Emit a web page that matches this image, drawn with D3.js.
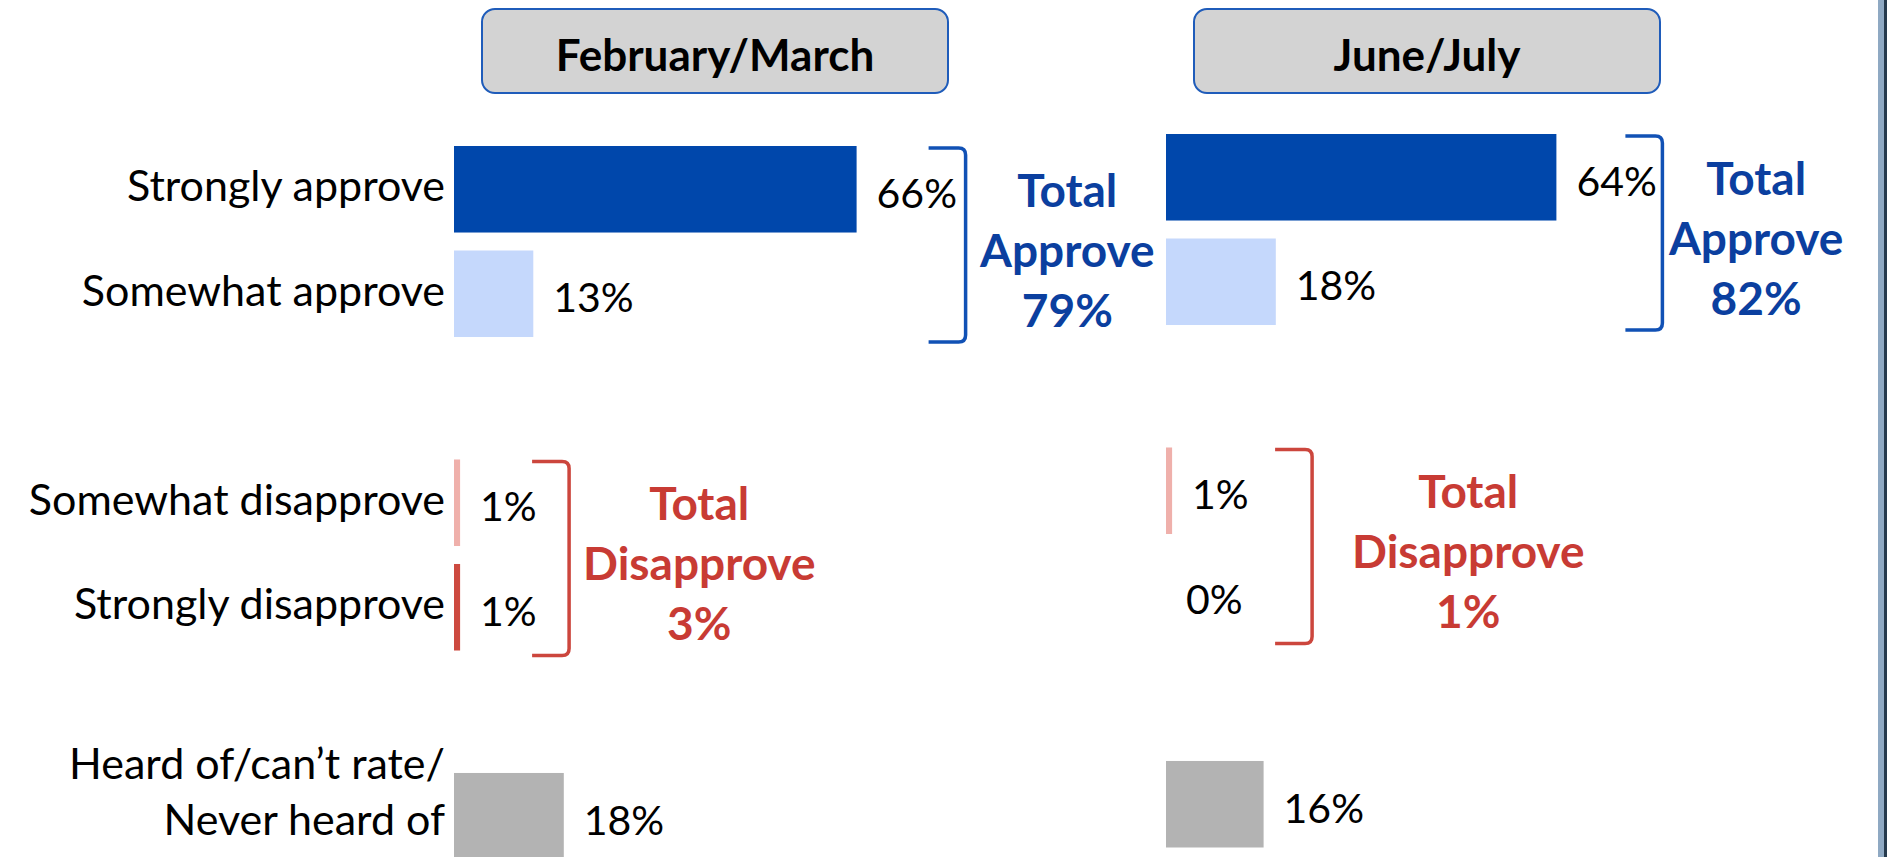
<!DOCTYPE html>
<html lang="en">
<head>
<meta charset="utf-8">
<title>Approval, February/March vs June/July</title>
<script src="https://cdn.jsdelivr.net/npm/d3@7"></script>
<style>
body { margin: 0; background: #fff; }
svg text { font-family: Lato, "Open Sans", sans-serif; }
</style>
</head>
<body>
<script>
// data
var categories = ["Strongly approve", "Somewhat approve", "Somewhat disapprove", "Strongly disapprove", "Heard of/can’t rate/|Never heard of"];
var periods = ["February/March", "June/July"];
var febMar = [66, 13, 1, 1, 18];
var junJul = [64, 18, 1, 0, 16];
var groupNames = ["Total|Approve", "Total|Disapprove"];
var totalsFebMar = [79, 3];
var totalsJunJul = [82, 1];

var barColors = ["#0047ab", "#c5d8fc", "#efb0ab", "#cd4a40", "#b3b3b3"];
var groupColors = ["#0b3f9f", "#c83b34"];
var bracketColors = ["#1151b5", "#cc463d"];

var w = 1887, h = 857;

// slots: two empty ones keep the gaps between the groups
var slots = [categories[0], categories[1], "_gap1", categories[2], categories[3], "_gap2", categories[4]];
var groups = [[0, 1], [2, 3]];

var x = d3.scaleLinear().domain([0, 100]).range([0, 610]);
var y = d3.scaleBand().domain(slots).range([0, 713.5]).paddingInner(0.172);

// gaps: bracket distance from the longest bar; pads: text distance from the bracket
var panels = [
    { name: periods[0], values: febMar, totals: totalsFebMar, x0: 454, y0: 146, gaps: [72, 72], pads: [14, 14], labels: true },
    { name: periods[1], values: junJul, totals: totalsJunJul, x0: 1166, y0: 134, gaps: [69, 103], pads: [6, 40], labels: false }
];

var svg = d3.select("body").append("svg")
    .attr("width", w)
    .attr("height", h);

// header boxes
panels.forEach(function(p) {
    var bx = p.x0 + 28;
    svg.append("rect")
        .attr("x", bx).attr("y", 9)
        .attr("width", 466).attr("height", 84)
        .attr("rx", 13)
        .attr("fill", "#d3d3d3")
        .attr("stroke", "#1f5cba")
        .attr("stroke-width", 2);
    svg.append("text")
        .attr("x", bx + 233).attr("y", 71)
        .attr("text-anchor", "middle")
        .attr("font-size", "44px")
        .attr("font-weight", "bold")
        .attr("fill", "#000")
        .text(p.name);
});

panels.forEach(function(p) {
    var g = svg.append("g").attr("transform", "translate(" + p.x0 + "," + p.y0 + ")");
    var rows = categories.map(function(c, i) { return { cat: c, v: p.values[i], i: i }; });

    g.selectAll("rect.bar")
        .data(rows)
        .enter()
        .append("rect")
        .attr("class", "bar")
        .attr("x", 0)
        .attr("y", function(d) { return y(d.cat); })
        .attr("width", function(d) { return x(d.v); })
        .attr("height", y.bandwidth())
        .attr("fill", function(d) { return barColors[d.i]; });

    // value labels
    g.selectAll("text.val")
        .data(rows)
        .enter()
        .append("text")
        .attr("class", "val")
        .attr("x", function(d) { return x(d.v) + 20; })
        .attr("y", function(d) { return y(d.cat) + y.bandwidth() / 2 + 18.5; })
        .attr("font-size", "41px")
        .attr("fill", "#000")
        .text(function(d) { return d.v + "%"; });

    // category labels, only on the left panel
    if (p.labels) {
        var lab = g.selectAll("text.cat")
            .data(rows)
            .enter()
            .append("text")
            .attr("class", "cat")
            .attr("text-anchor", "end")
            .attr("font-size", "43px")
            .attr("fill", "#000");
        lab.each(function(d) {
            var lines = d.cat.split("|");
            var cy = y(d.cat) + y.bandwidth() / 2 + 12 - (lines.length - 1) * 49;
            d3.select(this).selectAll("tspan")
                .data(lines)
                .enter()
                .append("tspan")
                .attr("x", -9)
                .attr("y", function(l, k) { return cy + k * 56; })
                .text(function(l) { return l; });
        });
    }

    // brackets and totals
    groups.forEach(function(idx, k) {
        var top = y(categories[idx[0]]) + 2;
        var bottom = y(categories[idx[1]]) + y.bandwidth() + 5;
        var maxV = d3.max(idx, function(i) { return p.values[i]; });
        var bx = x(maxV) + p.gaps[k];
        var vx = bx + 37;
        var path = d3.path();
        path.moveTo(bx, top);
        path.lineTo(vx - 7, top);
        path.quadraticCurveTo(vx, top, vx, top + 7);
        path.lineTo(vx, bottom - 7);
        path.quadraticCurveTo(vx, bottom, vx - 7, bottom);
        path.lineTo(bx, bottom);
        g.append("path")
            .attr("d", path.toString())
            .attr("fill", "none")
            .attr("stroke", bracketColors[k])
            .attr("stroke-width", 3.5);

        var lines = groupNames[k].split("|").concat([p.totals[k] + "%"]);
        var mid = (top + bottom) / 2;
        var t = g.append("text")
            .attr("text-anchor", "middle")
            .attr("font-size", "46px")
            .attr("font-weight", "bold")
            .attr("fill", groupColors[k]);
        t.selectAll("tspan")
            .data(lines)
            .enter()
            .append("tspan")
            .attr("x", 0)
            .attr("y", function(l, j) { return mid - 38 + j * 60; })
            .text(function(l) { return l; });
        var tw = t.node().getBBox().width;
        t.selectAll("tspan").attr("x", vx + p.pads[k] + tw / 2);
    });
});

// frame strip at the right edge
svg.append("rect").attr("x", 1878).attr("y", 0).attr("width", 6).attr("height", h).attr("fill", "#8fa9c3");
svg.append("rect").attr("x", 1884).attr("y", 0).attr("width", 3).attr("height", h).attr("fill", "#263a4d");
</script>
</body>
</html>
